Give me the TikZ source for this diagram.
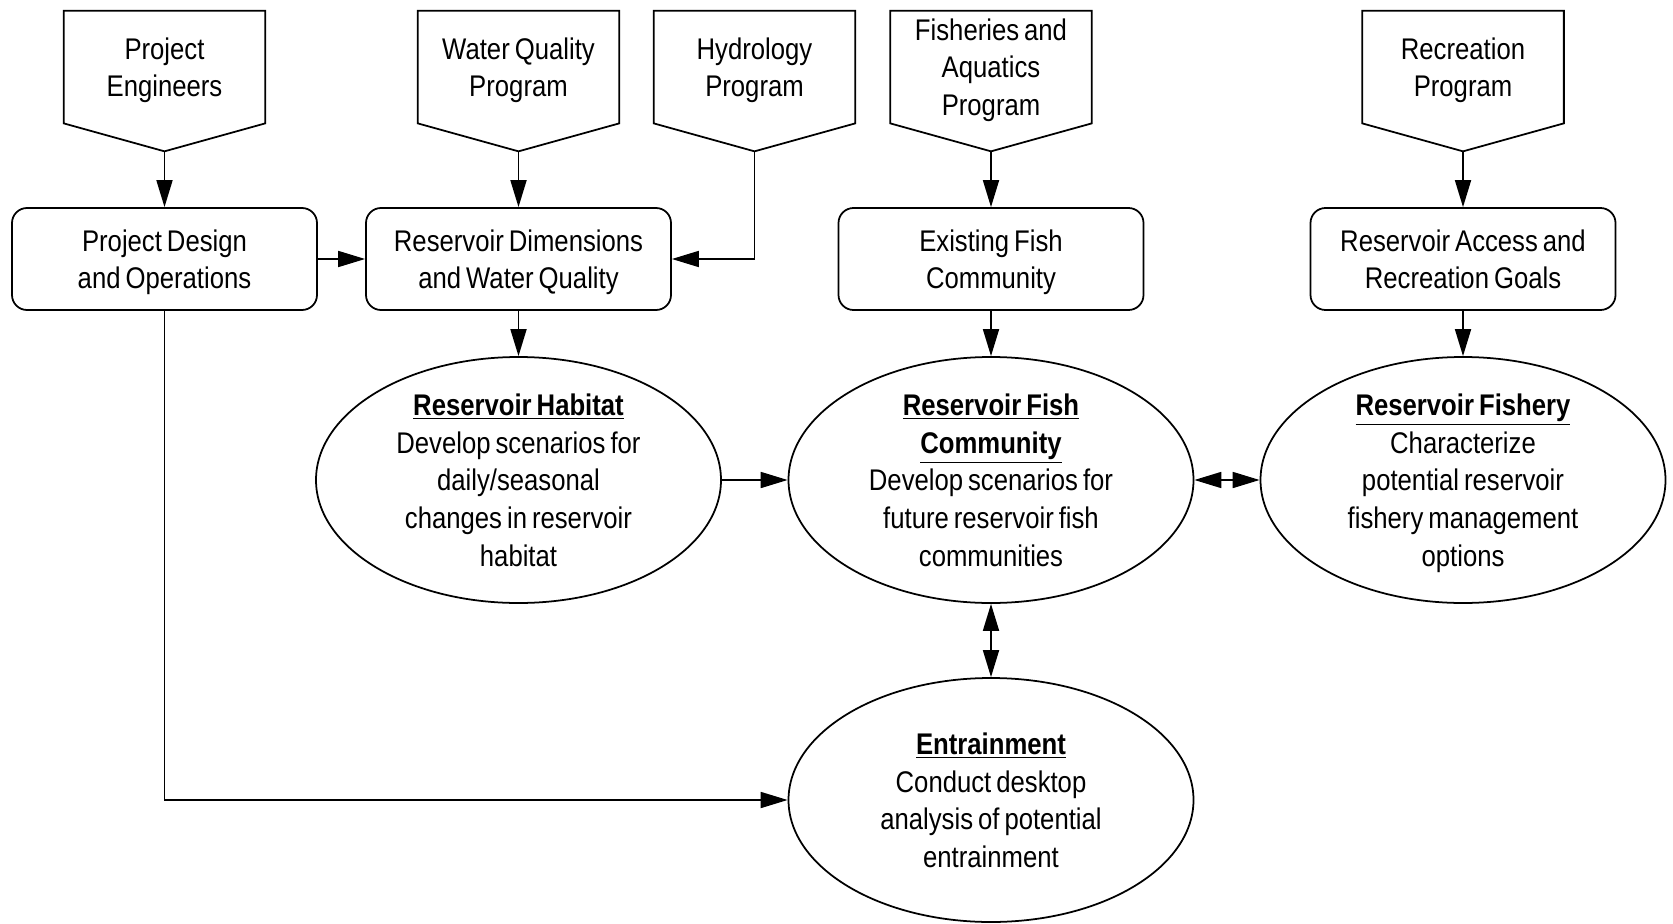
\documentclass[tikz,border=0pt]{standalone}
\usepackage{fontspec}
\setmainfont{Liberation Sans}[FakeStretch=0.86, WordSpace=0.7]
\usetikzlibrary{arrows.meta}
\usetikzlibrary{shapes.geometric}

\begin{document}
\begin{tikzpicture}
	\tikzset{comp/.style={
		draw=black, line width=1pt, align=center, text depth=0pt, font=\fontsize{17}{21.4}\selectfont
	}}
	\tikzset{source/.style={
		rectangle, align=center, text depth=0pt, font=\fontsize{17}{21.4}\selectfont, minimum width=4.02cm, minimum height=2.24cm
	}}
	\tikzset{frame/.style={
		draw=black, line width=1pt, line join=miter
	}}
	\tikzset{stepbox/.style={
		comp, rectangle, rounded corners=0.3cm, minimum width=6.1cm, minimum height=2.04cm
	}}
	\tikzset{task/.style={
		comp, ellipse, inner xsep=0pt, inner ysep=-2pt, minimum width=8.1cm, minimum height=4.92cm
	}}
	\tikzset{conn/.style={
		-{Triangle[length=5.4mm, width=3.2mm]}, line width=1pt
	}}
	\tikzset{conn2/.style={
		{Triangle[length=5.4mm, width=3.2mm]}-{Triangle[length=5.4mm, width=3.2mm]}, line width=1pt
	}}

	\useasboundingbox (0,0) rectangle (33.46,18.46);

	% Sources (oben)
	\node (Engineers)    [source] at (3.29,17.12)  {Project\\Engineers};
	\node (WaterQuality) [source] at (10.37,17.12) {Water Quality\\Program};
	\node (Hydrology)    [source] at (15.09,17.12) {Hydrology\\Program};
	\node (Fisheries)    [source] at (19.82,17.12) {Fisheries and\\Aquatics\\Program};
	\node (Recreation)   [source] at (29.26,17.12) {Recreation\\Program};

	% Pentagon frames + tips
	\foreach \s in {Engineers, WaterQuality, Hydrology, Fisheries, Recreation} {
		\draw[frame] (\s.north west) -- (\s.north east) -- (\s.south east)
			-- ([yshift=-0.56cm] \s.south) coordinate (\s_tip) -- (\s.south west) -- cycle;
	}

	% Boxes (mitte)
	\node (Design)     [stepbox] at (3.29,13.28)  {Project Design\\and Operations};
	\node (Dimensions) [stepbox] at (10.37,13.28) {Reservoir Dimensions\\and Water Quality};
	\node (Existing)   [stepbox] at (19.82,13.28) {Existing Fish\\Community};
	\node (Access)     [stepbox] at (29.26,13.28) {Reservoir Access and\\Recreation Goals};

	% Tasks (unten)
	\node (Habitat) [task] at (10.37,8.86)
		{\underline{\textbf{Reservoir Habitat}}\\Develop scenarios for\\daily/seasonal\\changes in reservoir\\habitat};
	\node (FishCommunity) [task] at (19.82,8.86)
		{\underline{\textbf{Reservoir Fish}}\\\underline{\textbf{Community}}\\Develop scenarios for\\future reservoir fish\\communities};
	\node (Fishery) [task] at (29.26,8.86)
		{\underline{\textbf{Reservoir Fishery}}\\Characterize\\potential reservoir\\fishery management\\options};
	\node (Entrainment) [task, minimum height=4.88cm] at (19.82,2.46)
		{\underline{\textbf{Entrainment}}\\Conduct desktop\\analysis of potential\\entrainment};

	% Sources -> Boxes
	\draw[conn] (Engineers_tip) -- (Design.north);
	\draw[conn] (WaterQuality_tip) -- (Dimensions.north);
	\draw[conn] (Hydrology_tip) |- (Dimensions.east);
	\draw[conn] (Fisheries_tip) -- (Existing.north);
	\draw[conn] (Recreation_tip) -- (Access.north);

	% Boxes -> Tasks
	\draw[conn] (Design.east) -- (Dimensions.west);
	\draw[conn] (Dimensions.south) -- (Habitat.north);
	\draw[conn] (Existing.south) -- (FishCommunity.north);
	\draw[conn] (Access.south) -- (Fishery.north);
	\draw[conn] (Design.south) |- (Entrainment.west);

	% Tasks <-> Tasks
	\draw[conn] (Habitat.east) -- (FishCommunity.west);
	\draw[conn2] (FishCommunity.east) -- (Fishery.west);
	\draw[conn2] (FishCommunity.south) -- (Entrainment.north);
\end{tikzpicture}
\end{document}
